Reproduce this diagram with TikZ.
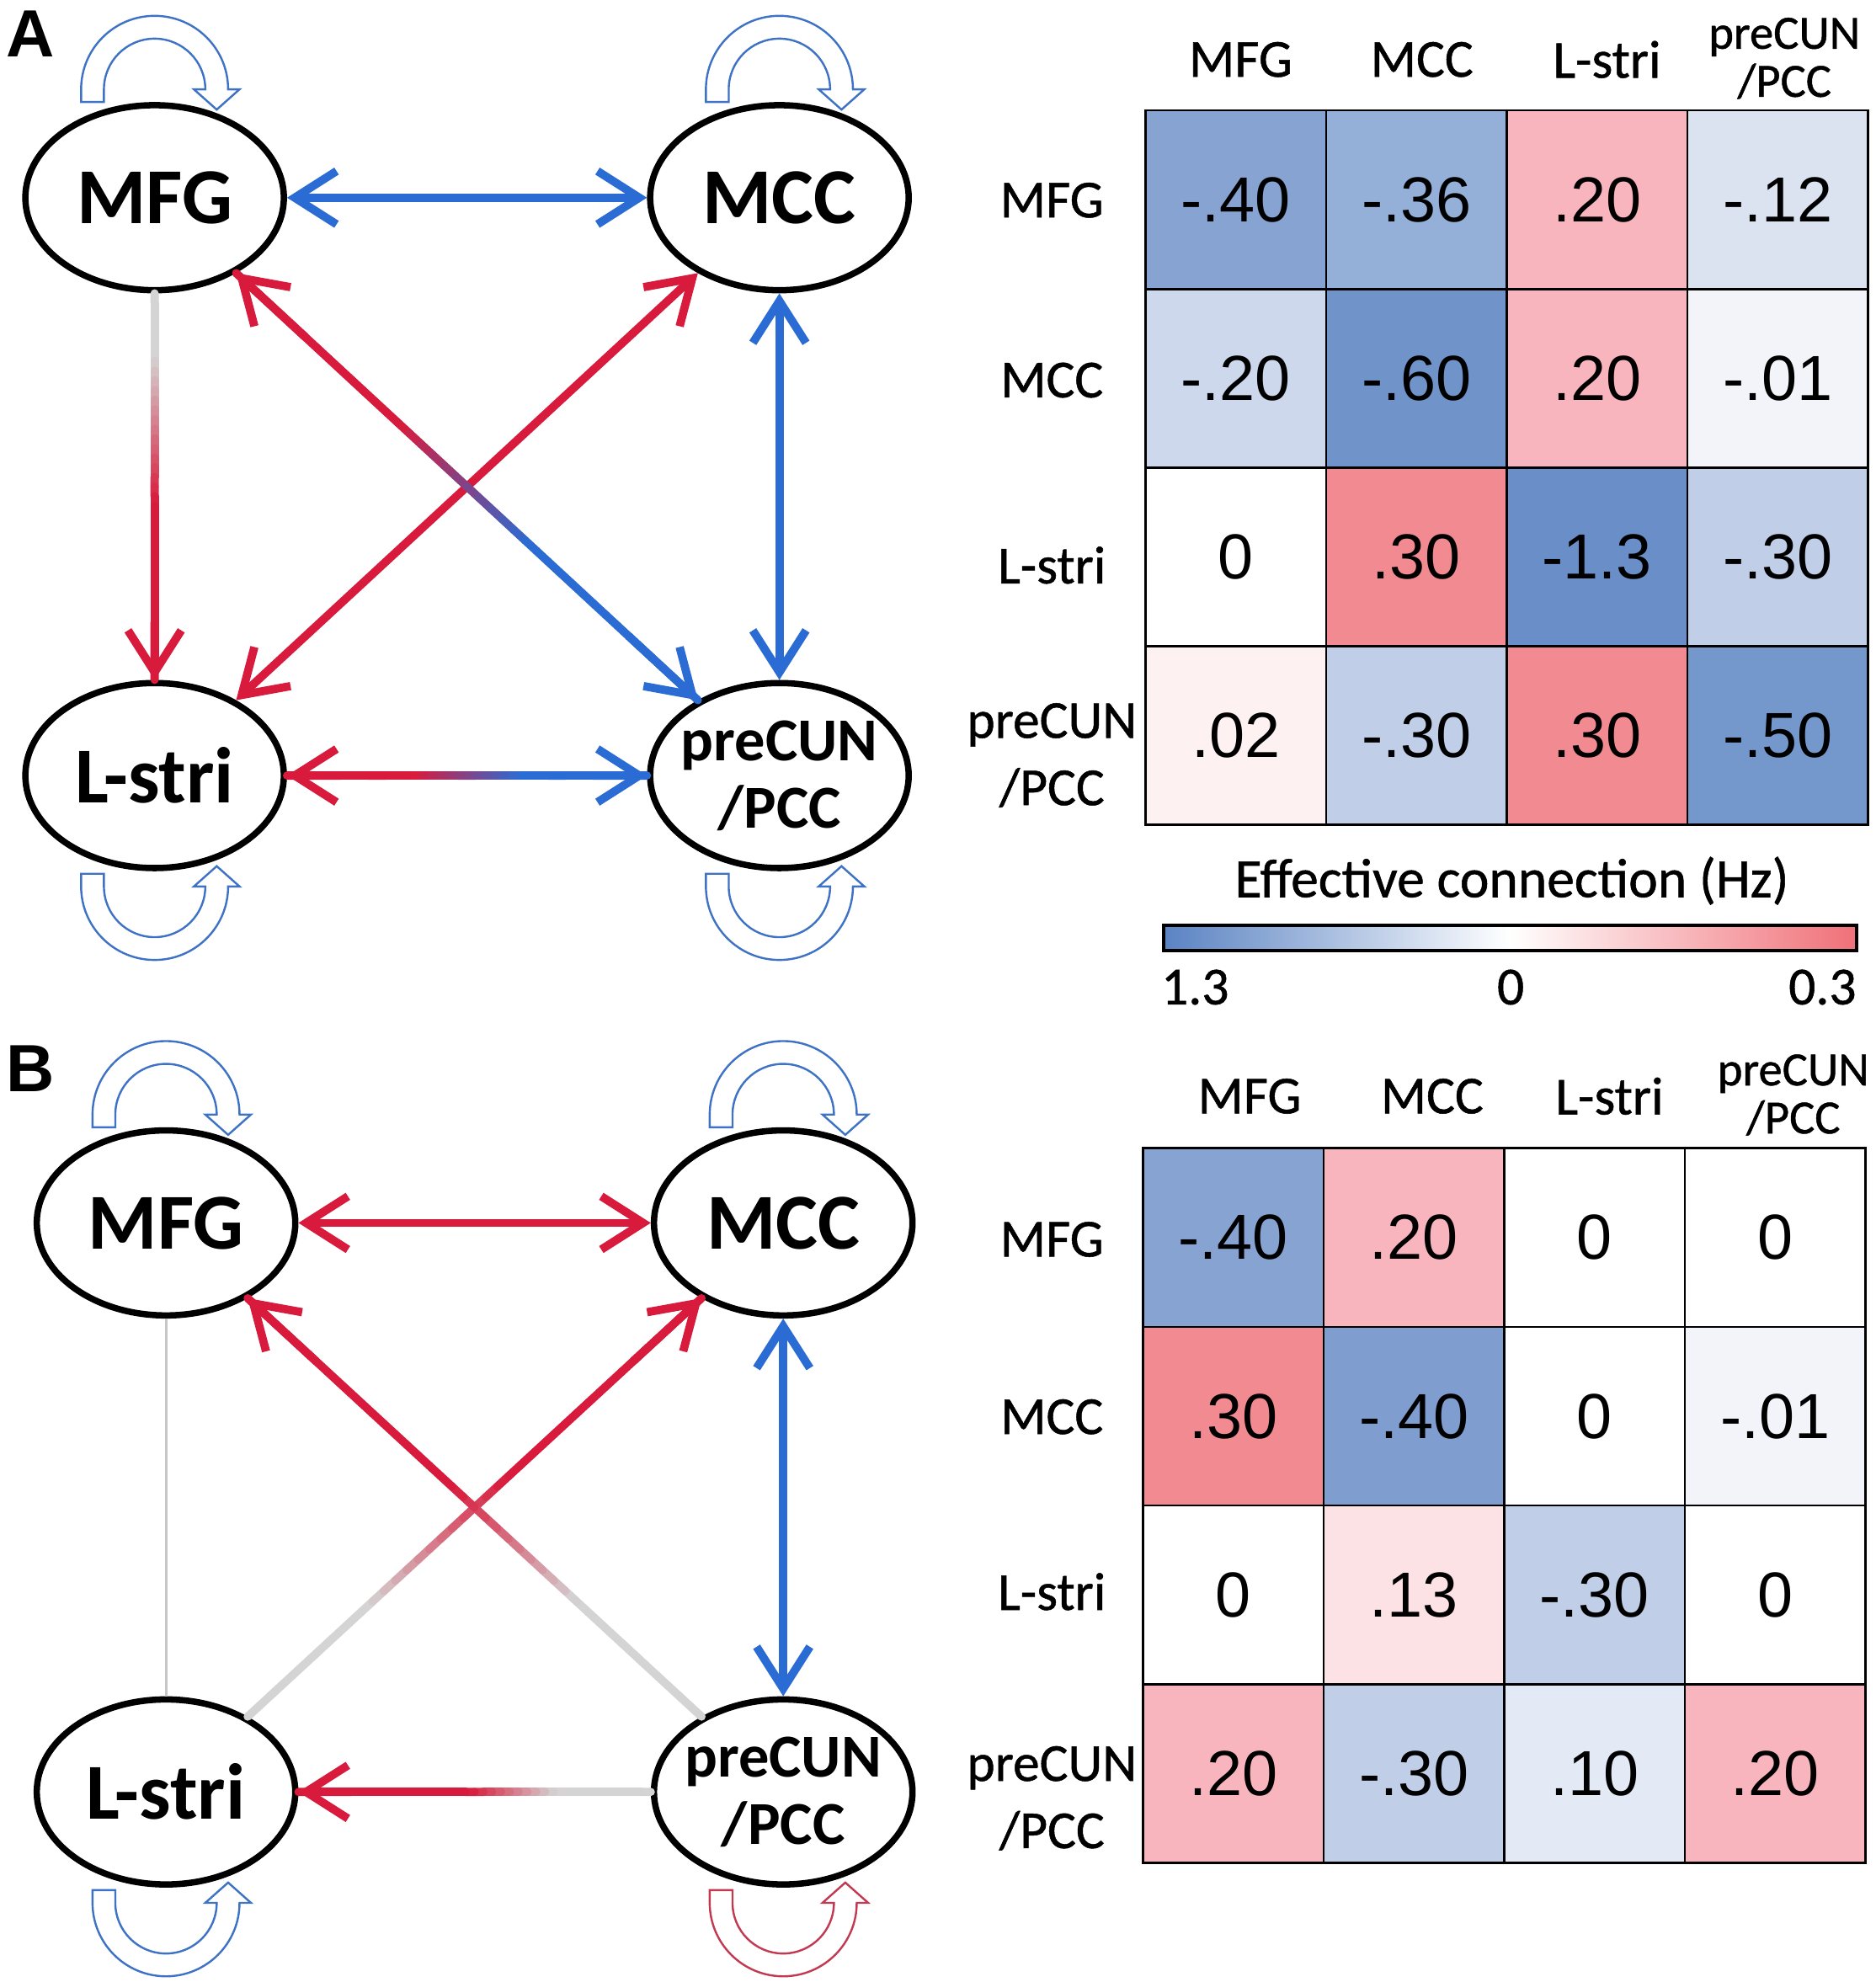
\documentclass[tikz,border=0pt]{standalone}
\usepackage{fontspec}
\setmainfont{Carlito}
\newfontfamily\numfont{Liberation Sans}
\newfontfamily\labfont{Carlito}[FakeBold=0.8]
\usetikzlibrary{shapes.geometric, arrows.meta, calc}

\definecolor{cred}{HTML}{D81B3C}
\definecolor{cblue}{HTML}{2B6CD4}
\definecolor{cgrey}{HTML}{D4D4D4}
\definecolor{thingrey}{HTML}{C6C6C6}
\definecolor{loopblue}{HTML}{3E72C4}
\definecolor{loopred}{HTML}{C23A52}
\definecolor{barblue}{HTML}{5A83C3}
\definecolor{barred}{HTML}{F07078}
% cell colours
\definecolor{bl40}{HTML}{87A3D1}
\definecolor{bl40b}{HTML}{7F9DCE}
\definecolor{bl36}{HTML}{94AFD8}
\definecolor{bl12}{HTML}{DCE3F0}
\definecolor{bl20}{HTML}{CDD8EC}
\definecolor{bl60}{HTML}{7094CA}
\definecolor{bl01}{HTML}{F2F4F9}
\definecolor{bl13}{HTML}{6A8EC7}
\definecolor{bl30}{HTML}{C0CEE7}
\definecolor{bl50}{HTML}{7498CB}
\definecolor{bl10}{HTML}{E3EAF5}
\definecolor{rd20}{HTML}{F8B5BD}
\definecolor{rd30}{HTML}{F28A92}
\definecolor{rd02}{HTML}{FDF1F1}
\definecolor{rd13}{HTML}{FDE2E5}

% colour-faded connector between two coordinates
\newcommand{\fadeline}[6]{%
	\foreach \k in {1,...,40}{%
		\pgfmathsetmacro{\segA}{(\k-1)/40}%
		\pgfmathsetmacro{\segB}{\k/40}%
		\pgfmathsetmacro{\segP}{100*min(1,max(0,((\segA+\segB)/2-#5)/(#6-#5)))}%
		\draw[conn, line cap=round, color=#4!\segP!#3] ($(#1)!\segA!(#2)$) -- ($(#1)!\segB!(#2)$);
	}%
}

\tikzset{
	>={Straight Barb[length=3.3mm, width=4.2mm]},
	roi/.style={draw, ellipse, line width=0.5mm, minimum width=20.4mm, minimum height=14.6mm, inner sep=0pt, font=\fontsize{17.8}{20}\selectfont\bfseries},
	roismall/.style={roi, inner xsep=-3mm, align=center, font=\fontsize{13.7}{15.1}\selectfont\bfseries},
	conn/.style={line width=0.65mm},
	valcell/.style={draw, line width=0.18mm, minimum width=14.25mm, minimum height=14.1mm, inner sep=0pt, font=\numfont\fontsize{14.3}{16}\selectfont},
	lab/.style={font=\labfont\fontsize{12}{15.1}\selectfont, align=center},
	labsmall/.style={font=\labfont\fontsize{10.7}{10.8}\selectfont, align=center},
	panel/.style={font=\numfont\bfseries\fontsize{15}{18}\selectfont},
	loopline/.style={line width=0.16mm},
	selfloop/.pic={
		\draw (-58,0) -- (-58,10) arc[start angle=180, end angle=0, radius=58] -- (67,10) -- (49,-6) -- (31,10) -- (40,10) arc[start angle=0, end angle=180, radius=40] -- (-40,0) -- cycle;
	}
}

\begin{document}
\begin{tikzpicture}[x=0.1mm, y=-0.1mm]
	\useasboundingbox (0,0) rectangle (1480,1564);

	% ---------- panel A ----------
	\node (labA) at (24,27) [panel] {A};
	\node (MFGa) at (122,156) [roi] {MFG};
	\node (MCCa) at (615,156) [roi] {MCC};
	\node (STRa) at (122,612) [roi] {L-stri};
	\node (PCCa) at (615,612) [roismall] {preCUN\\/PCC};

	\pic[loopline, color=loopblue, yscale=-1] at (MFGa.north) {selfloop};
	\pic[loopline, color=loopblue, yscale=-1] at (MCCa.north) {selfloop};
	\pic[loopline, color=loopblue] at ($(STRa.south)+(0,2)$) {selfloop};
	\pic[loopline, color=loopblue] at ($(PCCa.south)+(0,2)$) {selfloop};

	\draw[conn, cblue, <->] (MFGa) -- (MCCa);
	\draw[conn, cred, <->] (STRa) -- (MCCa);
	\draw[conn, cblue, <->] (MCCa) -- (PCCa);

	% faded connectors
	\path (MFGa) -- (STRa) coordinate[pos=0] (fa1) coordinate[pos=1] (ta1);
	\fadeline{fa1}{ta1}{cgrey}{cred}{0.17}{0.55}
	\draw[conn, cred, ->] ($(fa1)!0.85!(ta1)$) -- (ta1);

	\path (MFGa) -- (PCCa) coordinate[pos=0] (fa2) coordinate[pos=1] (ta2);
	\fadeline{fa2}{ta2}{cred}{cblue}{0.36}{0.64}
	\draw[conn, cred, ->] ($(fa2)!0.15!(ta2)$) -- (fa2);
	\draw[conn, cblue, ->] ($(fa2)!0.85!(ta2)$) -- (ta2);

	\path (STRa) -- (PCCa) coordinate[pos=0] (fa3) coordinate[pos=1] (ta3);
	\fadeline{fa3}{ta3}{cred}{cblue}{0.36}{0.66}
	\draw[conn, cred, ->] ($(fa3)!0.15!(ta3)$) -- (fa3);
	\draw[conn, cblue, ->] ($(fa3)!0.85!(ta3)$) -- (ta3);

	% matrix A
	\node (hMFGa) at (979,47)   [lab] {MFG};
	\node (hMCCa) at (1122,47)  [lab] {MCC};
	\node (hSTRa) at (1268,47)  [lab] {L-stri};
	\node (hPCCa) at (1408,46)  [labsmall] {preCUN\\/PCC};
	\node (rMFGa) at (830,158)  [lab] {MFG};
	\node (rMCCa) at (830,300)  [lab] {MCC};
	\node (rSTRa) at (830,446)  [lab] {L-stri};
	\node (rPCCa) at (830,596)  [lab] {preCUN\\/PCC};

	\node (a11) at (975.25,157.5)  [valcell, fill=bl40] {-.40};
	\node (a12) at (1117.75,157.5) [valcell, fill=bl36] {-.36};
	\node (a13) at (1260.25,157.5) [valcell, fill=rd20] {.20};
	\node (a14) at (1402.75,157.5) [valcell, fill=bl12] {-.12};
	\node (a21) at (975.25,298.5)  [valcell, fill=bl20] {-.20};
	\node (a22) at (1117.75,298.5) [valcell, fill=bl60] {-.60};
	\node (a23) at (1260.25,298.5) [valcell, fill=rd20] {.20};
	\node (a24) at (1402.75,298.5) [valcell, fill=bl01] {-.01};
	\node (a31) at (975.25,439.5)  [valcell, fill=white] {0};
	\node (a32) at (1117.75,439.5) [valcell, fill=rd30] {.30};
	\node (a33) at (1260.25,439.5) [valcell, fill=bl13] {-1.3};
	\node (a34) at (1402.75,439.5) [valcell, fill=bl30] {-.30};
	\node (a41) at (975.25,580.5)  [valcell, fill=rd02] {.02};
	\node (a42) at (1117.75,580.5) [valcell, fill=bl30] {-.30};
	\node (a43) at (1260.25,580.5) [valcell, fill=rd30] {.30};
	\node (a44) at (1402.75,580.5) [valcell, fill=bl50] {-.50};

	% colour bar
	\node (cbtitle) at (1193,695) [lab, font=\labfont\fontsize{12.4}{15}\selectfont] {Effective connection (Hz)};
	\node (cbar) at (1191.5,740) [draw, line width=0.25mm, minimum width=54.7mm, minimum height=2mm, inner sep=0pt, left color=barblue, right color=barred, middle color=white] {};
	\node (cbmin) at (943,779)  [lab] {1.3};
	\node (cbmid) at (1192,779) [lab] {0};
	\node (cbmax) at (1438,779) [lab] {0.3};

	% ---------- panel B ----------
	\node (labB) at (24,843) [panel] {B};
	\node (MFGb) at (131,965)  [roi] {MFG};
	\node (MCCb) at (618,965)  [roi] {MCC};
	\node (STRb) at (131,1414) [roi] {L-stri};
	\node (PCCb) at (618,1414) [roismall] {preCUN\\/PCC};

	\pic[loopline, color=loopblue, yscale=-1] at (MFGb.north) {selfloop};
	\pic[loopline, color=loopblue, yscale=-1] at (MCCb.north) {selfloop};
	\pic[loopline, color=loopblue] at ($(STRb.south)+(0,2)$) {selfloop};
	\pic[loopline, color=loopred] at ($(PCCb.south)+(0,2)$) {selfloop};

	\draw[conn, cred, <->] (MFGb) -- (MCCb);
	\draw[conn, cblue, <->] (MCCb) -- (PCCb);
	\draw[line width=0.2mm, thingrey] (MFGb) -- (STRb);

	% faded connectors
	\path (STRb) -- (MCCb) coordinate[pos=0] (fb1) coordinate[pos=1] (tb1);
	\fadeline{fb1}{tb1}{cgrey}{cred}{0.27}{0.57}
	\draw[conn, cred, ->] ($(fb1)!0.85!(tb1)$) -- (tb1);

	\path (PCCb) -- (MFGb) coordinate[pos=0] (fb2) coordinate[pos=1] (tb2);
	\fadeline{fb2}{tb2}{cgrey}{cred}{0.28}{0.55}
	\draw[conn, cred, ->] ($(fb2)!0.85!(tb2)$) -- (tb2);

	\path (PCCb) -- (STRb) coordinate[pos=0] (fb3) coordinate[pos=1] (tb3);
	\fadeline{fb3}{tb3}{cgrey}{cred}{0.28}{0.52}
	\draw[conn, cred, ->] ($(fb3)!0.85!(tb3)$) -- (tb3);

	% matrix B
	\node (hMFGb) at (986,865)  [lab] {MFG};
	\node (hMCCb) at (1130,865) [lab] {MCC};
	\node (hSTRb) at (1270,865) [lab] {L-stri};
	\node (hPCCb) at (1415,864) [labsmall] {preCUN\\/PCC};
	\node (rMFGb) at (830,978)  [lab] {MFG};
	\node (rMCCb) at (830,1118) [lab] {MCC};
	\node (rSTRb) at (830,1256) [lab] {L-stri};
	\node (rPCCb) at (830,1419) [lab] {preCUN\\/PCC};

	\node (b11) at (973.25,976.5)  [valcell, fill=bl40] {-.40};
	\node (b12) at (1115.75,976.5) [valcell, fill=rd20] {.20};
	\node (b13) at (1258.25,976.5) [valcell, fill=white] {0};
	\node (b14) at (1400.75,976.5) [valcell, fill=white] {0};
	\node (b21) at (973.25,1117.5)  [valcell, fill=rd30] {.30};
	\node (b22) at (1115.75,1117.5) [valcell, fill=bl40b] {-.40};
	\node (b23) at (1258.25,1117.5) [valcell, fill=white] {0};
	\node (b24) at (1400.75,1117.5) [valcell, fill=bl01] {-.01};
	\node (b31) at (973.25,1258.5)  [valcell, fill=white] {0};
	\node (b32) at (1115.75,1258.5) [valcell, fill=rd13] {.13};
	\node (b33) at (1258.25,1258.5) [valcell, fill=bl30] {-.30};
	\node (b34) at (1400.75,1258.5) [valcell, fill=white] {0};
	\node (b41) at (973.25,1399.5)  [valcell, fill=rd20] {.20};
	\node (b42) at (1115.75,1399.5) [valcell, fill=bl30] {-.30};
	\node (b43) at (1258.25,1399.5) [valcell, fill=bl10] {.10};
	\node (b44) at (1400.75,1399.5) [valcell, fill=rd20] {.20};
\end{tikzpicture}
\end{document}
